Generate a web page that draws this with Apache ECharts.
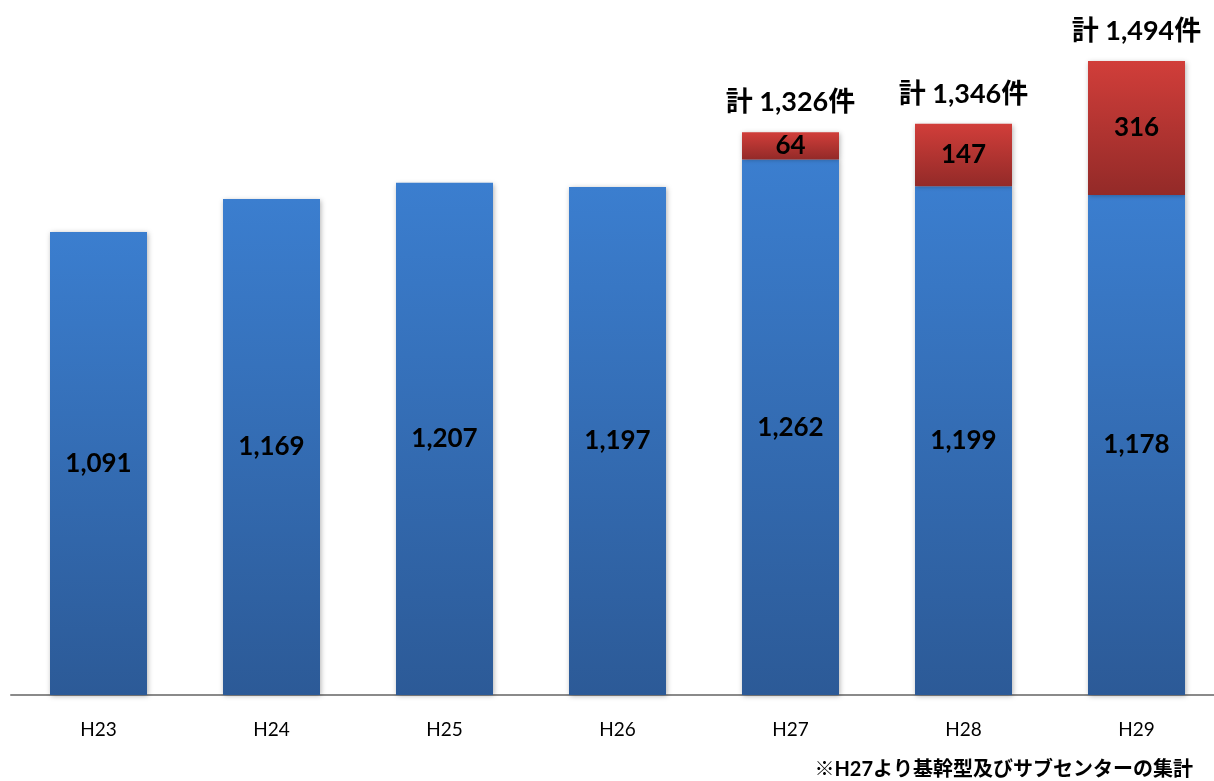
<!DOCTYPE html>
<html><head><meta charset="utf-8">
<script src="https://cdn.jsdelivr.net/npm/echarts@6/dist/echarts.min.js"></script>
<style>html,body{margin:0;padding:0;background:#fff}#c{width:1214px;height:781px}</style>
</head><body><div id="c"></div>
<script>
const categories = ['H23','H24','H25','H26','H27','H28','H29'];
const mainValues = [1091,1169,1207,1197,1262,1199,1178];
const subValues = [null,null,null,null,64,147,316];
const totalLabels = [null,null,null,null,'計 1,326件','計 1,346件','計 1,494件'];
const footnote = '※H27より基幹型及びサブセンターの集計';

const FONT = "Lato, 'Noto Sans CJK JP', sans-serif";
const chart = echarts.init(document.getElementById('c'));
chart.setOption({
  animation:false,
  grid:[
    {left:98.5,width:1038,top:16,height:679,containLabel:false},
    {left:11,right:0,top:16,height:679,containLabel:false}
  ],
  xAxis:[
    {type:'category',data:categories,boundaryGap:false,gridIndex:0,
     axisLine:{show:false},axisTick:{show:false},
     axisLabel:{color:'#000',fontSize:19,fontFamily:FONT,margin:25,interval:0}},
    {type:'value',gridIndex:1,min:0,max:1,
     axisLine:{show:true,lineStyle:{color:'#8a8a8a',width:2}},
     axisTick:{show:false},axisLabel:{show:false},splitLine:{show:false}}
  ],
  yAxis:[
    {type:'value',gridIndex:0,min:0,max:1600,show:false,splitLine:{show:false}},
    {type:'value',gridIndex:1,min:0,max:1,show:false,splitLine:{show:false}}
  ],
  graphic:[{type:'text',right:21,bottom:1,style:{text:footnote,font:"bold 20px "+FONT,fill:'#000'}}],
  series:[
    {type:'bar',stack:'a',data:mainValues,barWidth:97,
     itemStyle:{color:new echarts.graphic.LinearGradient(0,0,0,1,[{offset:0,color:'#3b7ecf'},{offset:1,color:'#2c5a97'}]),
       shadowBlur:5,shadowColor:'rgba(0,0,0,0.3)',shadowOffsetX:1,shadowOffsetY:1},
     label:{show:true,position:'inside',color:'#000',fontWeight:'bold',fontSize:26,fontFamily:FONT,
       formatter:p=>p.value.toLocaleString('en-US')}},
    {type:'bar',stack:'a',data:subValues,barWidth:97,
     itemStyle:{color:new echarts.graphic.LinearGradient(0,0,0,1,[{offset:0,color:'#d13e3a'},{offset:1,color:'#932a28'}]),
       shadowBlur:5,shadowColor:'rgba(0,0,0,0.3)',shadowOffsetX:1,shadowOffsetY:1},
     label:{show:true,position:'inside',color:'#000',fontWeight:'bold',fontSize:26,fontFamily:FONT,
       formatter:p=>p.value==null?'':String(p.value)}},
    {type:'bar',stack:'a',data:subValues.map(v=>v==null?null:0),barWidth:97,silent:true,
     itemStyle:{color:'transparent'},
     label:{show:true,position:'top',distance:16,color:'#000',fontWeight:'bold',fontSize:27,fontFamily:FONT,
       formatter:p=>totalLabels[p.dataIndex]||''}}
  ]
});
</script></body></html>
